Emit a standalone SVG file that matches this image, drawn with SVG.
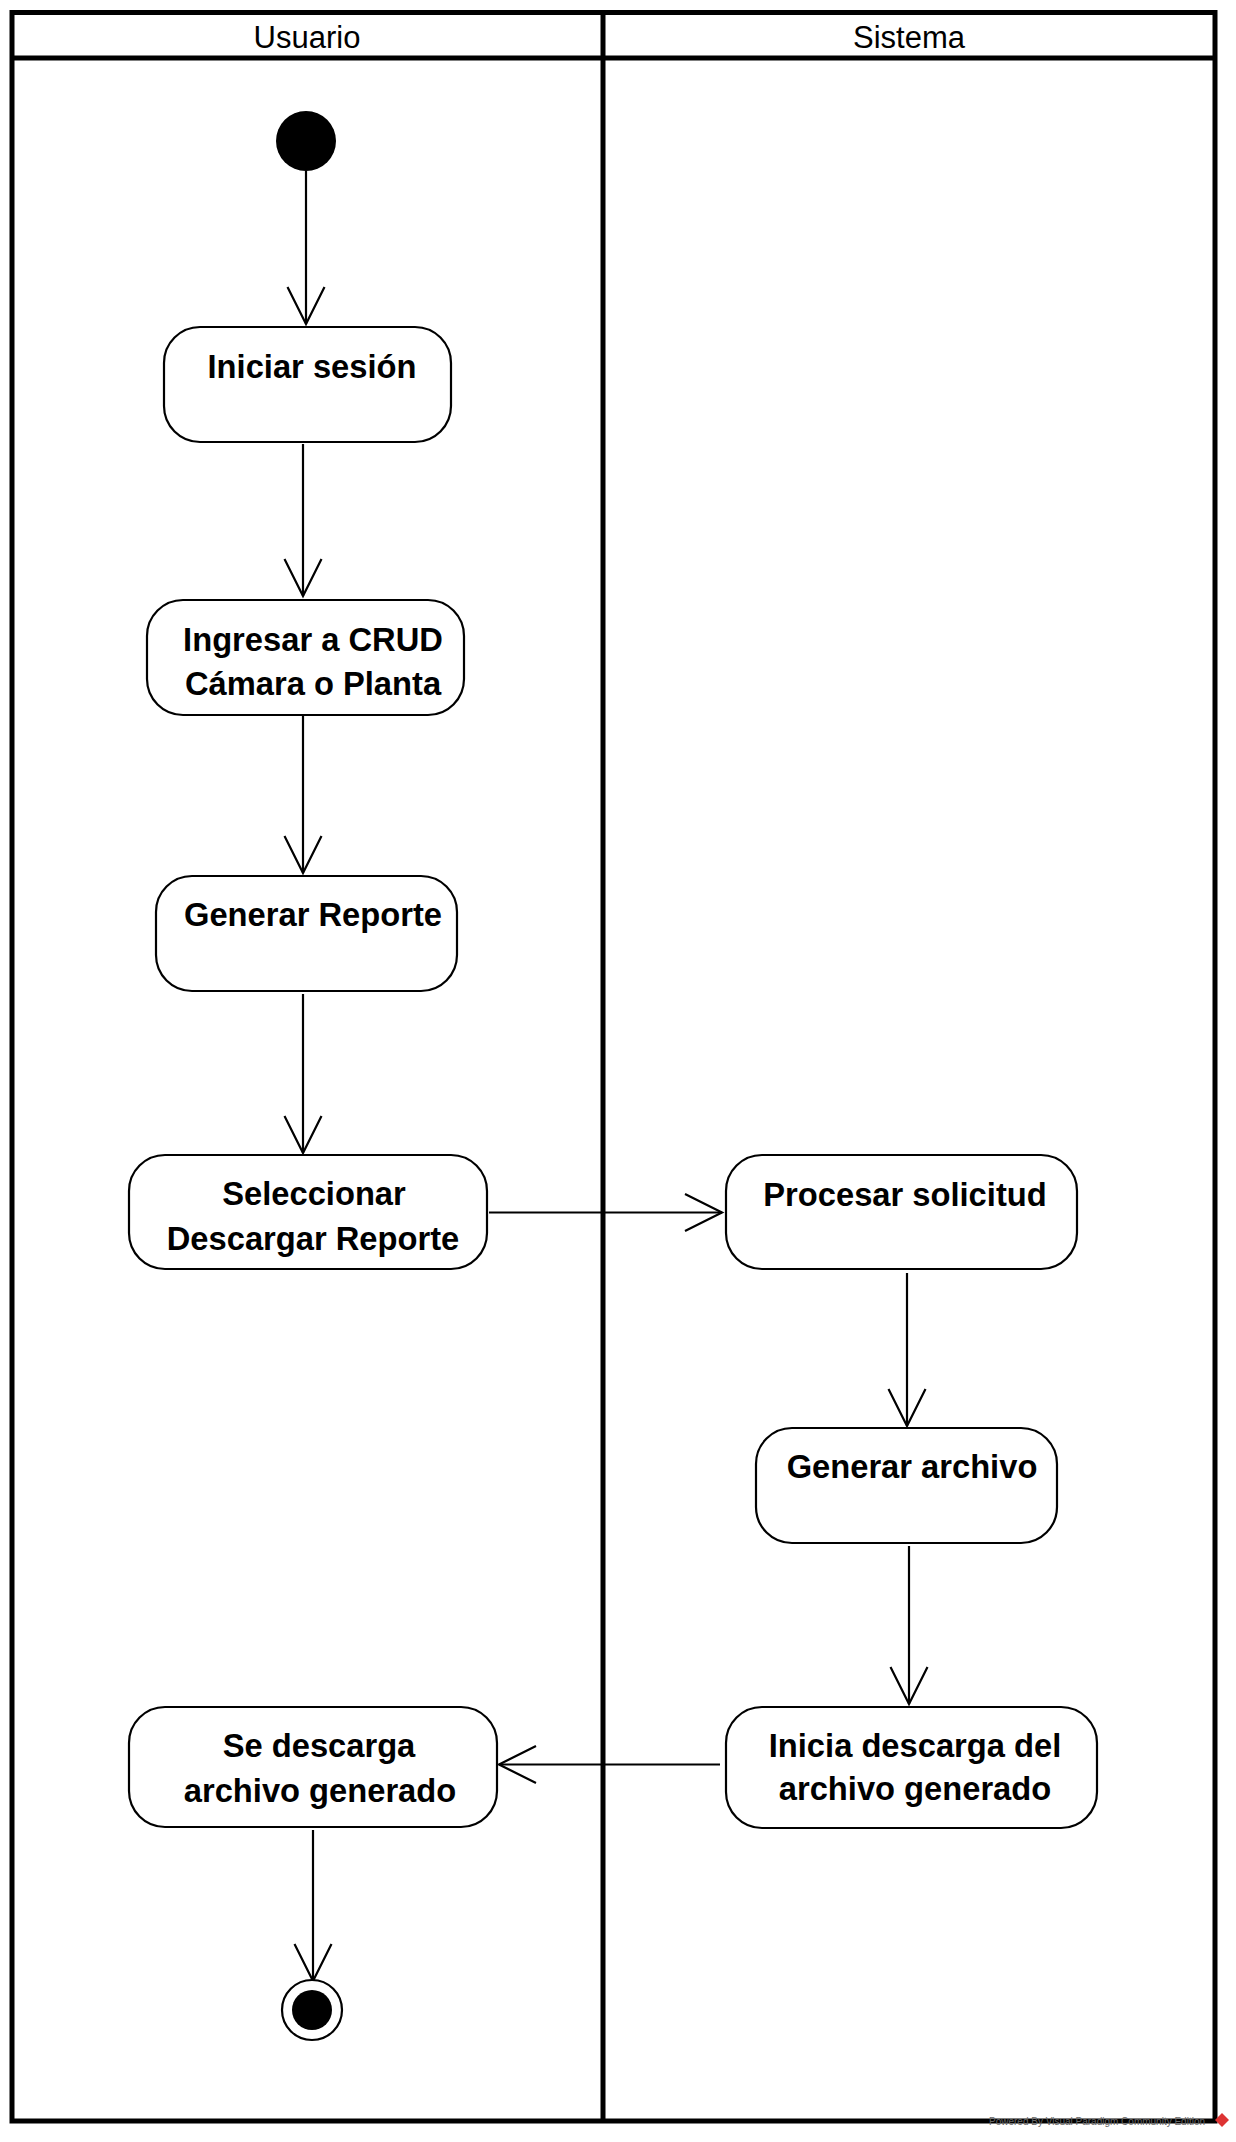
<svg xmlns="http://www.w3.org/2000/svg" width="1236" height="2142" viewBox="0 0 1236 2142">
<style>
.frame{fill:none;stroke:#000;stroke-width:5}
.act{fill:#fff;stroke:#000;stroke-width:2.2}
.lbl{font-family:"Liberation Sans",Arial,sans-serif;font-size:32.7px;font-weight:bold;fill:#000;text-anchor:middle}
.hdr{font-family:"Liberation Sans",Arial,sans-serif;font-size:31px;fill:#000;text-anchor:middle}
.edge{fill:none;stroke:#000;stroke-width:2.2}
.foot{font-family:"Liberation Sans",Arial,sans-serif;font-size:10px;fill:#666}
</style>
<defs>
<marker id="open" markerUnits="userSpaceOnUse" markerWidth="44" markerHeight="44" viewBox="-40 -22 44 44" refX="0" refY="0" orient="auto">
<path d="M-37,-18.5 L0,0 L-37,18.5" fill="none" stroke="#000" stroke-width="2.2"/>
</marker>
</defs>
<rect width="1236" height="2142" fill="#fff"/>
<g id="swimlanes">
<rect class="frame" x="12" y="12.5" width="1203" height="2108.5"/>
<line class="frame" x1="12" y1="58" x2="1215" y2="58"/>
<line class="frame" x1="603" y1="12.5" x2="603" y2="2121"/>
<text class="hdr" x="307" y="48">Usuario</text>
<text class="hdr" x="909" y="48">Sistema</text>
</g>
<g id="connectors">
<line class="edge" x1="306" y1="171" x2="306" y2="324" marker-end="url(#open)"/>
<line class="edge" x1="303" y1="444" x2="303" y2="596" marker-end="url(#open)"/>
<line class="edge" x1="303" y1="716" x2="303" y2="873" marker-end="url(#open)"/>
<line class="edge" x1="303" y1="994" x2="303" y2="1153" marker-end="url(#open)"/>
<line class="edge" x1="489" y1="1212.5" x2="722" y2="1212.5" marker-end="url(#open)"/>
<line class="edge" x1="907" y1="1273" x2="907" y2="1426" marker-end="url(#open)"/>
<line class="edge" x1="909" y1="1546" x2="909" y2="1704" marker-end="url(#open)"/>
<line class="edge" x1="720" y1="1764.5" x2="499" y2="1764.5" marker-end="url(#open)"/>
<line class="edge" x1="313" y1="1830" x2="313" y2="1981" marker-end="url(#open)"/>
</g>
<g id="start">
<circle cx="306" cy="141" r="30" fill="#000"/>
</g>
<g id="iniciar-sesion">
<rect class="act" x="164" y="327" width="287" height="115" rx="36" ry="36"/>
<text class="lbl" x="312" y="378">Iniciar sesión</text>
</g>
<g id="ingresar-crud">
<rect class="act" x="147" y="600" width="317" height="115" rx="36" ry="36"/>
<text class="lbl" x="313" y="651">Ingresar a CRUD</text>
<text class="lbl" x="313" y="695">Cámara o Planta</text>
</g>
<g id="generar-reporte">
<rect class="act" x="156" y="876" width="301" height="115" rx="36" ry="36"/>
<text class="lbl" x="313" y="926">Generar Reporte</text>
</g>
<g id="seleccionar-descargar">
<rect class="act" x="129" y="1155" width="358" height="114" rx="36" ry="36"/>
<text class="lbl" x="314" y="1205">Seleccionar</text>
<text class="lbl" x="313" y="1250">Descargar Reporte</text>
</g>
<g id="procesar-solicitud">
<rect class="act" x="726" y="1155" width="351" height="114" rx="36" ry="36"/>
<text class="lbl" x="905" y="1206">Procesar solicitud</text>
</g>
<g id="generar-archivo">
<rect class="act" x="756" y="1428" width="301" height="115" rx="36" ry="36"/>
<text class="lbl" x="912" y="1478">Generar archivo</text>
</g>
<g id="inicia-descarga">
<rect class="act" x="726" y="1707" width="371" height="121" rx="36" ry="36"/>
<text class="lbl" x="915" y="1757">Inicia descarga del</text>
<text class="lbl" x="915" y="1800">archivo generado</text>
</g>
<g id="se-descarga">
<rect class="act" x="129" y="1707" width="368" height="120" rx="36" ry="36"/>
<text class="lbl" x="319" y="1757">Se descarga</text>
<text class="lbl" x="320" y="1802">archivo generado</text>
</g>
<g id="end">
<circle cx="312" cy="2010" r="30" fill="#fff" stroke="#000" stroke-width="2.2"/>
<circle cx="312" cy="2010" r="20" fill="#000"/>
</g>
<g id="footer">
<text class="foot" x="989" y="2125">Powered By  Visual Paradigm Community Edition</text>
<path d="M1222,2113 L1229,2120 L1222,2127 L1215,2120 Z" fill="#d33"/>
</g>
</svg>
